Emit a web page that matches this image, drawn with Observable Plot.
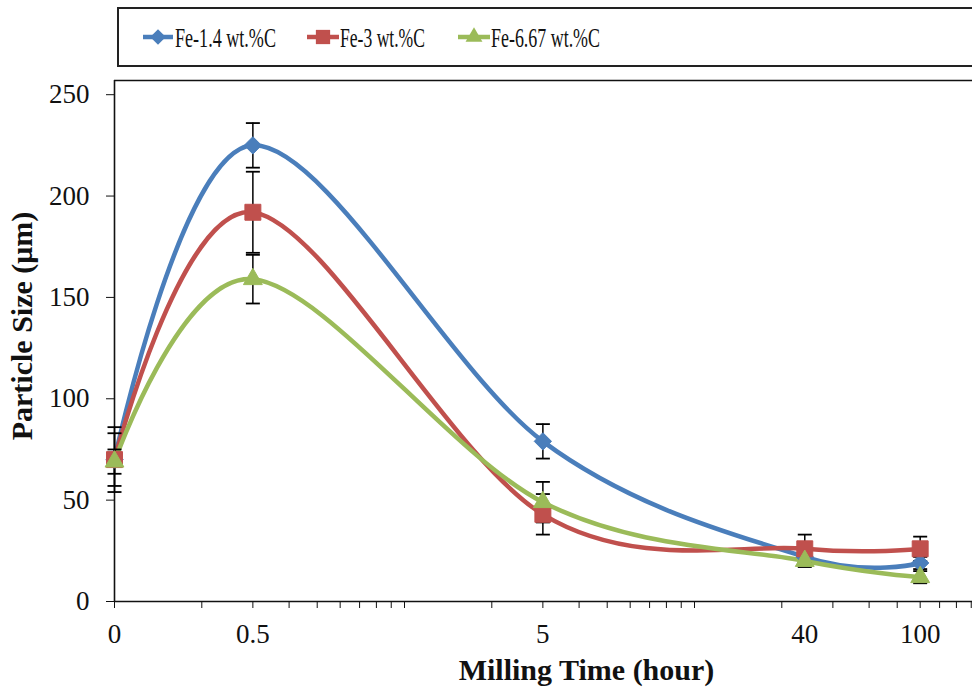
<!DOCTYPE html>
<html>
<head>
<meta charset="utf-8">
<script src="https://cdn.jsdelivr.net/npm/d3@7"></script>
<script src="https://cdn.jsdelivr.net/npm/@observablehq/plot@0.6"></script>
<style>
  body { margin: 0; background: #fff; }
  #chart svg { display: block; }
</style>
</head>
<body>
<div id="chart"></div>
<script>
// ---- data ----
const timeLabels = ["0", "0.5", "5", "40", "100"];      // milling time (hour), tick labels
const timeMinutes = [10, 30, 300, 2400, 6000];          // position on the log axis (0 h drawn at 10 min)
const seriesNames = ["Fe-1.4 wt.%C", "Fe-3 wt.%C", "Fe-6.67 wt.%C"];
const seriesColors = ["#4A7EBB", "#C0504D", "#9BBB59"];
const seriesSymbols = ["diamond2", "square", "triangle"];
const fe14 = [70, 225, 79, 22, 19];
const fe3 = [70, 192, 43, 26, 26];
const fe667 = [69, 159, 49, 20, 12];
const err14 = [16, 11, 8.5, 3, 3];
const err3 = [13, 20, 10, 7, 6];
const err667 = [6, 12, 10, 3, 3];
const yTicks = [0, 50, 100, 150, 200, 250];
const xDomain = [10, 9090];
const yDomain = [0, 257];

const values = [fe14, fe3, fe667];
const errs = [err14, err3, err667];
const rows = [];
seriesNames.forEach((s, si) => {
  values[si].forEach((v, i) => {
    rows.push({series: s, x: timeMinutes[i], y: v, lo: v - errs[si][i], hi: v + errs[si][i]});
  });
});
// minor log ticks
const minorTicks = [];
for (const dec of [10, 100, 1000]) for (let k = 1; k <= 9; k++) minorTicks.push(dec * k);
const xTickRows = timeLabels.map((t, i) => ({label: t, x: timeMinutes[i]}));

const capSymbol = {
  draw(ctx, size) { const w = 7; ctx.moveTo(-w, 0); ctx.lineTo(w, 0); }
};

const font = "Liberation Serif, Times New Roman, serif";
const marks = [];
// axes lines
marks.push(Plot.ruleY([yDomain[0]], {stroke: "#111", strokeWidth: 1.6}));
marks.push(Plot.ruleY([yDomain[1]], {stroke: "#111", strokeWidth: 1.6}));
marks.push(Plot.ruleX([xDomain[0]], {stroke: "#111", strokeWidth: 1.6}));
// lines
seriesNames.forEach((s, si) => {
  marks.push(Plot.line(rows.filter(r => r.series === s), {
    x: "x", y: "y", stroke: seriesColors[si], strokeWidth: 4.5, curve: "cardinal"
  }));
});
// error bars
marks.push(Plot.ruleX(rows, {x: "x", y1: "lo", y2: "hi", stroke: "#000", strokeWidth: 1.5}));
marks.push(Plot.dot(rows, {x: "x", y: "lo", symbol: capSymbol, stroke: "#000", strokeWidth: 1.8, fill: "none", r: 3}));
marks.push(Plot.dot(rows, {x: "x", y: "hi", symbol: capSymbol, stroke: "#000", strokeWidth: 1.8, fill: "none", r: 3}));
// markers
const rSizes = [7.8, 9, 7];
seriesNames.forEach((s, si) => {
  marks.push(Plot.dot(rows.filter(r => r.series === s), {
    x: "x", y: "y", symbol: seriesSymbols[si], fill: seriesColors[si], stroke: seriesColors[si], strokeWidth: 1, r: rSizes[si]
  }));
});
// axes
marks.push(Plot.axisX({ticks: minorTicks, tickSize: 7, tickFormat: () => "", stroke: "#111", label: null}));
marks.push(Plot.text(xTickRows, {x: "x", text: "label", frameAnchor: "bottom", lineAnchor: "top", dy: 22, fontSize: 27, fill: "#111"}));
marks.push(Plot.axisY({ticks: yTicks, tickSize: 8, tickPadding: 17, fontSize: 27, fill: "#111", stroke: "#111", label: null}));
// axis titles
marks.push(Plot.text(["Milling Time (hour)"], {frameAnchor: "bottom", lineAnchor: "bottom", textAnchor: "middle", dx: 43, dy: 78, fontSize: 30, fontWeight: "bold", fill: "#111"}));
marks.push(Plot.text(["Particle Size (μm)"], {frameAnchor: "left", textAnchor: "middle", lineAnchor: "middle", dx: -92, dy: -15, rotate: -90, fontSize: 30, fontWeight: "bold", fill: "#111"}));

const chart = Plot.plot({
  width: 972, height: 688,
  marginLeft: 114, marginRight: 0, marginTop: 80, marginBottom: 87,
  style: {fontFamily: font, background: "#fff", overflow: "visible"},
  x: {type: "log", domain: xDomain, range: [114, 972]},
  y: {domain: yDomain},
  marks
});

// legend
const svg = d3.select(chart);
const lg = svg.append("g");
lg.append("rect").attr("x", 118).attr("y", 8).attr("width", 870).attr("height", 58)
  .attr("fill", "#fff").attr("stroke", "#222").attr("stroke-width", 2);
const items = [
  {x0: 143, x1: 173, tx: 175, tw: 101},
  {x0: 307, x1: 339, tx: 340, tw: 85},
  {x0: 458, x1: 490, tx: 491, tw: 109}
];
const d3Symbols = [d3.symbolDiamond2, d3.symbolSquare, d3.symbolTriangle];
items.forEach((it, i) => {
  lg.append("line").attr("x1", it.x0).attr("x2", it.x1).attr("y1", 37).attr("y2", 37)
    .attr("stroke", seriesColors[i]).attr("stroke-width", 4.5);
  lg.append("path").attr("transform", `translate(${(it.x0 + it.x1) / 2},37)`)
    .attr("d", d3.symbol(d3Symbols[i], Math.PI * rSizes[i] * rSizes[i] * 0.8)())
    .attr("fill", seriesColors[i]);
  lg.append("text").attr("x", it.tx).attr("y", 47).text(seriesNames[i])
    .attr("text-anchor", "start")
    .attr("font-family", font).attr("font-size", 27).attr("fill", "#111")
    .attr("textLength", it.tw).attr("lengthAdjust", "spacingAndGlyphs");
});

document.getElementById("chart").appendChild(chart);
</script>
</body>
</html>
